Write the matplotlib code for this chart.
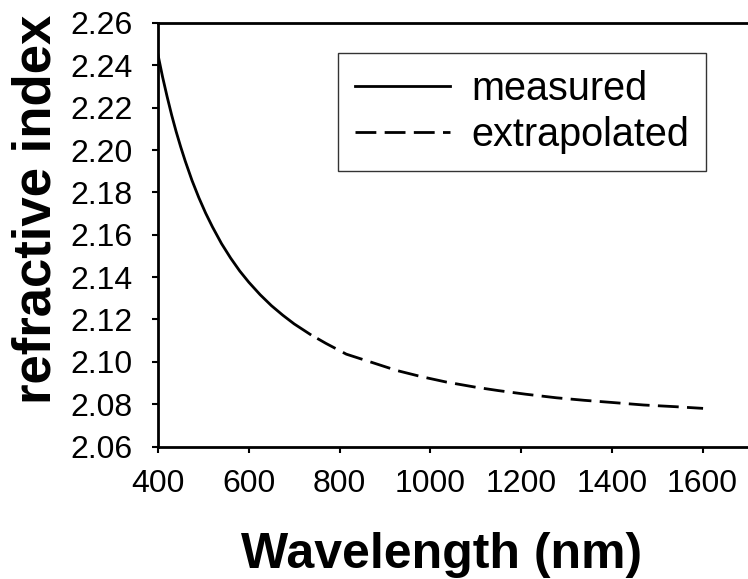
import matplotlib
matplotlib.use('Agg')
import matplotlib.pyplot as plt

plt.rcParams['font.family'] = ['Liberation Sans', 'DejaVu Sans']

# ── Data ─────────────────────────────────────────────────────────────────────
wl_measured = [400, 410, 420, 430, 440, 450, 460, 475, 490, 505, 520, 540, 560, 580,
               600, 625, 650, 675, 700, 735]
n_measured = [2.2450, 2.2346, 2.2253, 2.2166, 2.2087, 2.2015, 2.1948, 2.1856, 2.1775,
              2.1702, 2.1637, 2.1558, 2.1490, 2.1429, 2.1376, 2.1317, 2.1265, 2.1220,
              2.1179, 2.1130]

wl_extrap = [735, 770, 815, 870, 926, 980, 1036, 1100, 1150, 1210, 1278, 1340, 1400,
             1470, 1540, 1601]
n_extrap = [2.1130, 2.1087, 2.1036, 2.0998, 2.0959, 2.0930, 2.0904, 2.0880, 2.0864,
            2.0847, 2.0830, 2.0818, 2.0808, 2.0796, 2.0788, 2.0780]

x_ticks = [400, 600, 800, 1000, 1200, 1400, 1600]
y_ticks = [2.06, 2.08, 2.10, 2.12, 2.14, 2.16, 2.18, 2.20, 2.22, 2.24, 2.26]

# ── Figure ───────────────────────────────────────────────────────────────────
fig = plt.figure(figsize=(7.48, 5.79), dpi=100)
ax = fig.add_axes([158 / 748, 132.5 / 579, 1 - 158 / 748, (446.5 - 23) / 579])

ax.plot(wl_measured, n_measured, color='black', linewidth=2.0, label='measured')
# dash pattern offset so the extrapolated part starts with a small gap
ax.plot(wl_extrap, n_extrap, color='black', linewidth=2.0,
        linestyle=(7.5, (7.5, 3)), label='extrapolated')

ax.set_xlim(400, 1700)
ax.set_ylim(2.06, 2.26)
ax.set_xticks(x_ticks)
ax.set_yticks(y_ticks)
ax.set_yticklabels([f'{v:.2f}' for v in y_ticks])
ax.tick_params(axis='both', direction='out', length=4, width=1.5,
               labelsize=23, color='black')
ax.tick_params(axis='x', pad=12)
ax.tick_params(axis='y', pad=14)

for side in ['left', 'bottom', 'top']:
    ax.spines[side].set_linewidth(2.0)
ax.spines['right'].set_visible(False)

ax.set_xlabel('Wavelength (nm)', fontsize=36, fontweight='bold')
ax.xaxis.set_label_coords(0.48, -0.203)
ax.set_ylabel('refractive index', fontsize=38, fontweight='bold')
ax.yaxis.set_label_coords(-0.164, 0.561)

leg = ax.legend(loc='upper left', bbox_to_anchor=(338 / 748, 1 - 53 / 579),
                bbox_transform=fig.transFigure, borderaxespad=0,
                fontsize=28.5, frameon=True, fancybox=False, handlelength=2.4,
                handletextpad=0.55, labelspacing=0.22, borderpad=0.42)
leg.get_frame().set_edgecolor('black')
leg.get_frame().set_linewidth(1.0)
# legend sample starts with a dash, as in the original
leg.get_lines()[1].set_linestyle((0, (7.5, 3)))

fig.savefig('out.png', dpi=100)
